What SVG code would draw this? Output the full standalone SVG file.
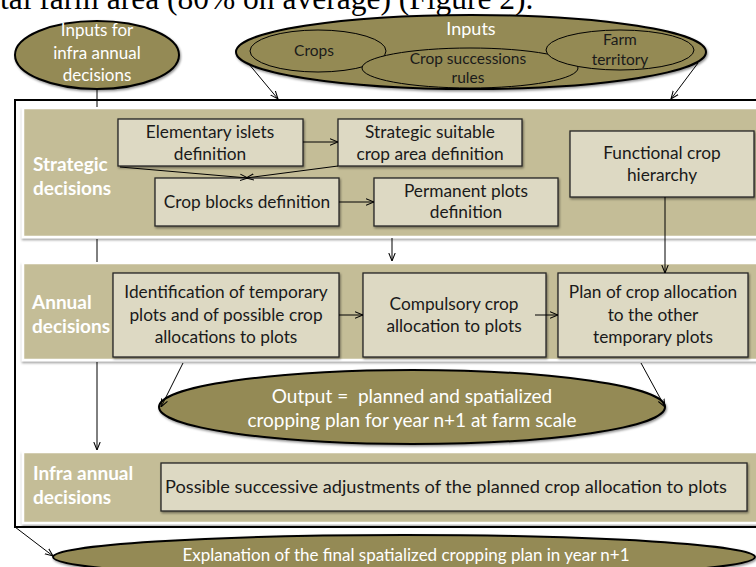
<svg xmlns="http://www.w3.org/2000/svg" width="756" height="567" viewBox="0 0 756 567">
<style>
.band{fill:#c4bd97;stroke:#ffffff;stroke-width:2.5;filter:url(#bsh)}
.box{fill:#ddd9c3;stroke:#262626;stroke-width:1.3;filter:url(#sh)}
.ell{fill:#948a54;stroke:#000;stroke-width:2;filter:url(#sh)}
.iell{fill:#948a54;stroke:#000;stroke-width:1}
.t{font-family:Lato,"Liberation Sans",sans-serif;font-size:17.3px;fill:#1a1a1a;text-anchor:middle}
.s{font-family:Lato,"Liberation Sans",sans-serif;font-size:15.5px;fill:#1a1a1a;text-anchor:middle}
.w{font-family:Lato,"Liberation Sans",sans-serif;font-size:17px;fill:#ffffff;text-anchor:middle}
.lbl{font-family:Lato,"Liberation Sans",sans-serif;font-size:19px;font-weight:bold;fill:#ffffff}
.c{fill:none;stroke:#000;stroke-width:1}
</style>
<defs>
<filter id="sh" x="-10%" y="-10%" width="120%" height="130%"><feDropShadow dx="1" dy="1.5" stdDeviation="0.8" flood-color="#000" flood-opacity="0.45"/></filter>
<filter id="bsh" x="-5%" y="-10%" width="110%" height="130%"><feDropShadow dx="0" dy="2" stdDeviation="1" flood-color="#000" flood-opacity="0.35"/></filter>
<marker id="ah" viewBox="0 0 10 10" refX="10" refY="5" markerWidth="8" markerHeight="8" orient="auto" markerUnits="userSpaceOnUse"><path d="M0,1 L10,5 L0,9" fill="none" stroke="#000" stroke-width="1.3"/></marker>
</defs>
<rect width="756" height="567" fill="#ffffff"/>
<text x="0" y="9" font-family="'Liberation Serif',serif" font-size="31.5" fill="#000">tal farm area (80% on average) (Figure 2).</text>

<rect id="frame" x="15" y="100" width="760" height="427" fill="none" stroke="#000" stroke-width="2"/>

<g id="band-strategic">
<rect class="band" x="23" y="108" width="750" height="129"/>
<text class="lbl" x="33" y="171">Strategic</text>
<text class="lbl" x="33" y="195">decisions</text>
</g>
<g id="band-annual">
<rect class="band" x="23" y="263" width="750" height="97"/>
<text class="lbl" x="32" y="309">Annual</text>
<text class="lbl" x="32" y="333">decisions</text>
</g>
<g id="band-infra">
<rect class="band" x="23" y="452" width="750" height="71"/>
<text class="lbl" x="33" y="480">Infra annual</text>
<text class="lbl" x="33" y="504">decisions</text>
</g>

<g id="elementary">
<rect class="box" x="118" y="119" width="185" height="47"/>
<text class="t" x="210" y="138">Elementary islets</text>
<text class="t" x="210" y="160">definition</text>
</g>
<g id="strategic-suitable">
<rect class="box" x="338" y="119" width="184" height="47"/>
<text class="t" x="430" y="138">Strategic suitable</text>
<text class="t" x="430" y="160">crop area definition</text>
</g>
<g id="crop-blocks">
<rect class="box" x="155" y="178" width="184" height="48"/>
<text class="t" x="247" y="208">Crop blocks definition</text>
</g>
<g id="permanent-plots">
<rect class="box" x="374" y="178" width="184" height="48"/>
<text class="t" x="466" y="197">Permanent plots</text>
<text class="t" x="466" y="218">definition</text>
</g>
<g id="functional-hierarchy">
<rect class="box" x="570" y="131" width="184" height="66"/>
<text class="t" x="662" y="159">Functional crop</text>
<text class="t" x="662" y="181">hierarchy</text>
</g>

<g id="identification">
<rect class="box" x="113" y="273" width="226" height="84"/>
<text class="t" x="226" y="298">Identification of temporary</text>
<text class="t" x="226" y="321">plots and of possible crop</text>
<text class="t" x="226" y="343">allocations to plots</text>
</g>
<g id="compulsory">
<rect class="box" x="363" y="273" width="183" height="84"/>
<text class="t" x="454" y="310">Compulsory crop</text>
<text class="t" x="454" y="332">allocation to plots</text>
</g>
<g id="plan">
<rect class="box" x="558" y="273" width="190" height="84"/>
<text class="t" x="653" y="298">Plan of crop allocation</text>
<text class="t" x="653" y="321">to the other</text>
<text class="t" x="653" y="343">temporary plots</text>
</g>

<g id="adjustments">
<rect class="box" x="161" y="463" width="586" height="48"/>
<text class="t" x="446" y="493" style="font-size:18.2px">Possible successive adjustments of the planned crop allocation to plots</text>
</g>

<g id="inputs-infra">
<ellipse class="ell" cx="97" cy="55" rx="82" ry="34"/>
<text class="w" x="97" y="36">Inputs for</text>
<text class="w" x="97" y="59">infra annual</text>
<text class="w" x="97" y="81">decisions</text>
</g>

<g id="inputs">
<ellipse class="ell" cx="471" cy="52" rx="235" ry="37"/>
<text class="w" x="471" y="35" style="font-size:18px">Inputs</text>
<g id="crops">
<ellipse class="iell" cx="318" cy="51" rx="68" ry="21"/>
<text class="s" x="314" y="56">Crops</text>
</g>
<g id="crop-successions">
<ellipse class="iell" cx="470" cy="68" rx="108" ry="20"/>
<text class="s" x="468" y="64">Crop successions</text>
<text class="s" x="468" y="83">rules</text>
</g>
<g id="farm-territory">
<ellipse class="iell" cx="620" cy="50" rx="74" ry="20"/>
<text class="s" x="620" y="45">Farm</text>
<text class="s" x="620" y="65">territory</text>
</g>
</g>

<g id="output">
<ellipse class="ell" cx="412" cy="407" rx="253" ry="37"/>
<text class="w" x="412" y="403" style="font-size:19px">Output =&#160; planned and spatialized</text>
<text class="w" x="412" y="427" style="font-size:19px">cropping plan for year n+1 at farm scale</text>
</g>

<g id="explanation">
<ellipse class="ell" cx="404" cy="557" rx="351" ry="22"/>
<text class="w" x="406" y="561">Explanation of the final spatialized cropping plan in year n+1</text>
</g>

<g id="connectors">
<path class="c" d="M303,142 L338,142" marker-end="url(#ah)"/>
<path class="c" d="M120,167 L248,178" marker-end="url(#ah)"/>
<path class="c" d="M338,166 L246,178" marker-end="url(#ah)"/>
<path class="c" d="M339,202 L374,202" marker-end="url(#ah)"/>
<path class="c" d="M665,197 L665,273" marker-end="url(#ah)"/>
<path class="c" d="M392,238 L392,261" marker-end="url(#ah)"/>
<path class="c" d="M339,315 L363,315" marker-end="url(#ah)"/>
<path class="c" d="M535,315 L558,315" marker-end="url(#ah)"/>
<path class="c" d="M183,363 L161,407" marker-end="url(#ah)"/>
<path class="c" d="M641,363 L665,407" marker-end="url(#ah)"/>
<path class="c" d="M248,63 L278,99" marker-end="url(#ah)"/>
<path class="c" d="M698,63 L671,99" marker-end="url(#ah)"/>
<path class="c" d="M97,89 L97,107 M97,239 L97,262"/>
<path class="c" d="M97,362 L97,450" marker-end="url(#ah)"/>
<path class="c" d="M15,527 L53,556" marker-end="url(#ah)"/>
</g>
</svg>
